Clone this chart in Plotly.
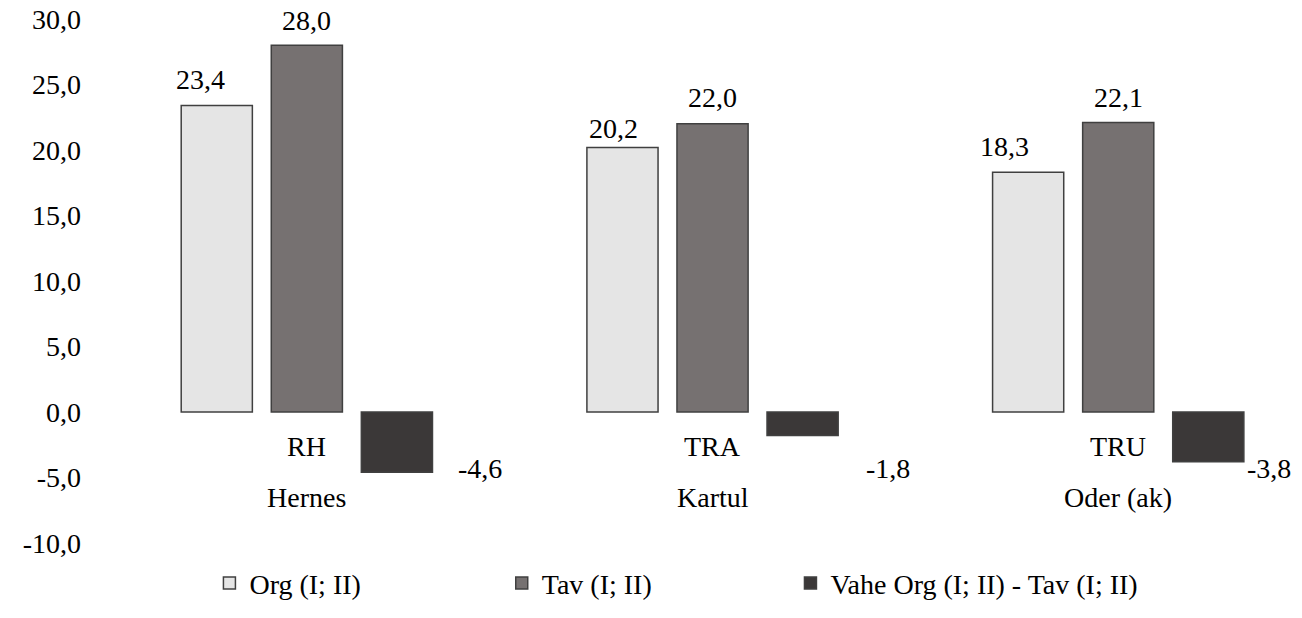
import plotly.graph_objects as go

# --- data ---
codes = ["RH", "TRA", "TRU"]
crops = ["Hernes", "Kartul", "Oder (ak)"]
series_names = ["Org (I; II)", "Tav (I; II)", "Vahe Org (I; II) - Tav (I; II)"]
org = [23.4, 20.2, 18.3]
tav = [28.0, 22.0, 22.1]
diff = [-4.6, -1.8, -3.8]
y_ticks = [-10, -5, 0, 5, 10, 15, 20, 25, 30]

# --- style ---
FONT = "Times New Roman"
FS = 28
fills = ["#E5E5E5", "#767171", "#3B3838"]
edge = "#404040"
bargap = 0.334
slot = (1 - bargap) / 3
legend_x = [0.088, 0.332, 0.573]

def fmt(v):
    return f"{v:.1f}".replace(".", ",")

xs = list(range(len(codes)))
fig = go.Figure()
legend_ids = ["legend", "legend2", "legend3"]
for name, vals, col, lg in zip(series_names, [org, tav, diff], fills, legend_ids):
    fig.add_trace(go.Bar(
        x=xs, y=vals, name=name, legend=lg,
        marker=dict(color=col, line=dict(color=edge, width=1.5)),
        hoverinfo="skip",
    ))

ann = []
# value labels above the positive bars (pixel nudges per label)
pos_shift_x = [[-16, -9, -24], [0, 0, 0]]
pos_shift_y = [[26, 19, 26], [25, 26, 25]]
for k, vals in enumerate([org, tav]):
    for i, v in enumerate(vals):
        ann.append(dict(
            x=i + (k - 1) * slot, y=v, xref="x", yref="y",
            text=fmt(v), showarrow=False,
            xshift=pos_shift_x[k][i], yshift=pos_shift_y[k][i],
            xanchor="center", yanchor="middle",
        ))
# value labels to the right of the negative bars
neg_shift_x = [24, 26, 1]
for i, v in enumerate(diff):
    ann.append(dict(
        x=i + slot + slot * 0.79 / 2, y=-4.3, xref="x", yref="y",
        text=fmt(v), showarrow=False,
        xshift=neg_shift_x[i], xanchor="left", yanchor="middle",
    ))
# two-level category labels
for i in xs:
    ann.append(dict(x=i, y=-2.6, xref="x", yref="y", text=codes[i],
                    showarrow=False, xanchor="center", yanchor="middle"))
    ann.append(dict(x=i, y=-6.55, xref="x", yref="y", text=crops[i],
                    showarrow=False, xanchor="center", yanchor="middle"))

legend_common = dict(orientation="h", y=-0.077, xanchor="left", yanchor="middle",
                     font=dict(size=FS), itemwidth=30, bgcolor="rgba(0,0,0,0)")

fig.update_layout(
    width=1302, height=618,
    margin=dict(l=104, r=0, t=19, b=75),
    paper_bgcolor="white", plot_bgcolor="white",
    font=dict(family=FONT, size=FS, color="black"),
    barmode="group", bargap=bargap, bargroupgap=0.21,
    showlegend=True,
    legend=dict(x=legend_x[0], **legend_common),
    legend2=dict(x=legend_x[1], **legend_common),
    legend3=dict(x=legend_x[2], **legend_common),
    annotations=ann,
)
fig.update_xaxes(range=[-0.5, 2.453], showticklabels=False, showgrid=False,
                 zeroline=False, showline=False, ticks="")
fig.update_yaxes(range=[-10, 30], tickvals=y_ticks,
                 ticktext=[fmt(t) for t in y_ticks],
                 showgrid=False, zeroline=False, showline=False, ticks="",
                 ticklabelstandoff=22)

fig.write_html("out.html")
